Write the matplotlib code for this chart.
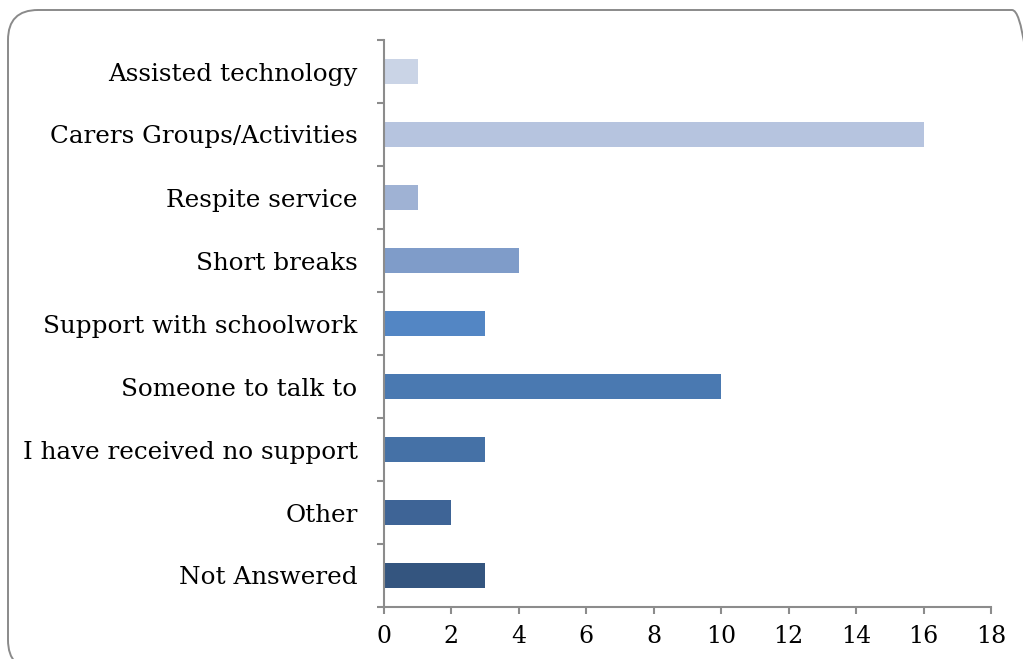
import numpy as np
import matplotlib.pyplot as plt
from matplotlib.patches import FancyBboxPatch
from matplotlib.transforms import IdentityTransform

plt.rcParams['font.family'] = ['DejaVu Serif']

categories = ['Assisted technology', 'Carers Groups/Activities', 'Respite service',
              'Short breaks', 'Support with schoolwork', 'Someone to talk to',
              'I have received no support', 'Other', 'Not Answered']
counts = [1, 16, 1, 4, 3, 10, 3, 2, 3]
colors = ['#cad4e6', '#b6c4df', '#9fb2d4', '#7f9cc9', '#5386c4',
          '#4a79b1', '#4571a6', '#3e6496', '#34557f']

fig = plt.figure(figsize=(10.23, 6.59), dpi=100)

# rounded frame around the chart (pixel coords, runs off the right and bottom)
frame = FancyBboxPatch((8, -11), 1034, 660,
                       boxstyle='round,pad=0,rounding_size=30',
                       transform=IdentityTransform(), facecolor='none',
                       edgecolor='#8a8a8a', linewidth=1.4)
fig.patches.append(frame)

ax = fig.add_axes([384 / 1023, 1 - 607 / 659, 607 / 1023, 567 / 659])
n = len(categories)
y = np.arange(n)[::-1]
ax.barh(y, counts, height=0.41, color=colors)

ax.set_xlim(0, 18)
ax.set_ylim(-0.5, n - 0.5)
ax.set_xticks(np.arange(0, 19, 2))
ax.set_yticks(y)
ax.set_yticklabels(categories)
ax.set_yticks(np.arange(n + 1) - 0.5, minor=True)

for s in ['top', 'right']:
    ax.spines[s].set_visible(False)
for s in ['left', 'bottom']:
    ax.spines[s].set_color('#8c8c8c')
    ax.spines[s].set_linewidth(1.5)

ax.tick_params(axis='y', which='major', length=0, pad=19, labelsize=17.7)
ax.tick_params(axis='y', which='minor', length=5, width=1.5, color='#8c8c8c')
ax.tick_params(axis='x', length=5, width=1.5, color='#8c8c8c', pad=8, labelsize=17)

fig.savefig('out.png', dpi=100)
